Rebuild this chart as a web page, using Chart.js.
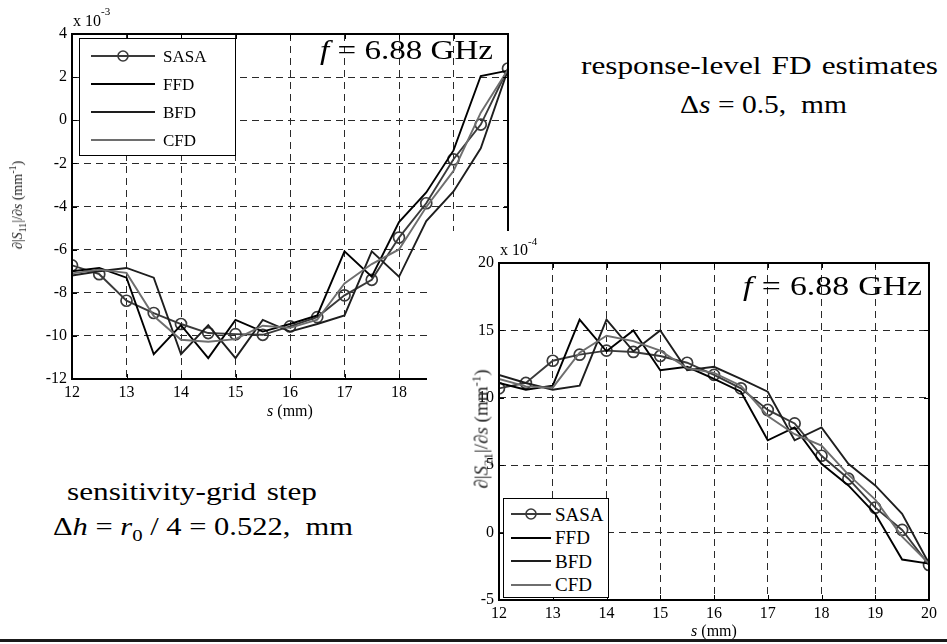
<!DOCTYPE html>
<html>
<head>
<meta charset="utf-8">
<script src="https://cdn.jsdelivr.net/npm/chart.js@4.4.0/dist/chart.umd.min.js"></script>
<style>
  body { margin: 0; width: 947px; height: 644px; position: relative; overflow: hidden; background: #fff;
         font-family: "Liberation Serif", serif; color: #000; }
  body * { font-family: "Liberation Serif", serif; }
  .abs { position: absolute; white-space: nowrap; line-height: 1; }
  .fit { transform-origin: left top; }
  #s11-canvas { position: absolute; left: 0; top: 0; z-index: 1; }
  #s21-fig { position: absolute; left: 427px; top: 231px; width: 520px; height: 407px; background: #fff; z-index: 5; }
  #s21-canvas { position: absolute; left: 0; top: 0; }
  .legend { position: absolute; background: #fff; border: 1.5px solid #000; box-sizing: border-box; z-index: 10; }
  .legend .row { position: absolute; left: 0; white-space: nowrap; line-height: 1; }
  .legend svg { position: absolute; left: 0; top: 0; }
  .ytitle { position: absolute; white-space: nowrap; line-height: 1; transform: translate(-50%, -50%) rotate(-90deg); color: #222; }
  sub, sup { line-height: 0; }
  .bottom-rule { position: absolute; left: 0; top: 639px; width: 947px; height: 3px; background: #1a1a1a; z-index: 20; }
</style>
</head>
<body>
<canvas id="s11-canvas" width="530" height="430"></canvas>

<!-- left plot annotations -->
<div class="abs" style="left:73px;top:13px;font-size:16px;z-index:2">x 10</div>
<div class="abs" style="left:101px;top:6px;font-size:11px;z-index:2">-3</div>
<div class="abs fit" data-w="173" style="left:320px;top:37px;font-size:27px;z-index:2"><i>f</i> = 6.88 GHz</div>
<div class="abs" style="left:290px;top:403px;font-size:16px;transform:translateX(-50%);z-index:2"><i>s</i> (mm)</div>
<div class="ytitle" style="left:18px;top:205px;font-size:14px;z-index:2">∂|<i>S</i><sub style="font-size:10px">11</sub>|/∂<i>s</i> (mm<sup style="font-size:10px">-1</sup>)</div>
<div class="legend" id="s11-legend" style="left:79px;top:38px;width:157px;height:118px"></div>

<div id="s21-fig">
  <canvas id="s21-canvas" width="520" height="407"></canvas>
</div>

<!-- right plot annotations -->
<div class="abs" style="left:500px;top:242px;font-size:16px;z-index:6">x 10</div>
<div class="abs" style="left:528px;top:236px;font-size:11px;z-index:6">-4</div>
<div class="abs fit" data-w="179" style="left:743px;top:273px;font-size:27px;z-index:6"><i>f</i> = 6.88 GHz</div>
<div class="abs" style="left:714px;top:623px;font-size:16px;transform:translateX(-50%);z-index:6"><i>s</i> (mm)</div>
<div class="ytitle" style="left:481px;top:429px;font-size:19px;z-index:6">∂|<i>S</i><sub style="font-size:13px">21</sub>|/∂<i>s</i> (mm<sup style="font-size:13px">-1</sup>)</div>
<div class="legend" id="s21-legend" style="left:503px;top:498px;width:106px;height:100px"></div>

<!-- free text -->
<div class="abs fit" data-w="357" style="left:581px;top:53px;font-size:25px">response-level FD estimates</div>
<div class="abs fit" data-w="167" style="left:680px;top:92px;font-size:25px">Δ<i>s</i> = 0.5,&nbsp; mm</div>
<div class="abs fit" data-w="250" style="left:67px;top:479px;font-size:25px">sensitivity-grid step</div>
<div class="abs fit" data-w="300" style="left:53px;top:514px;font-size:25px">Δ<i>h</i> = <i>r</i><sub style="font-size:17px">0</sub> / 4 = 0.522,&nbsp; mm</div>

<div class="bottom-rule"></div>

<script>
// sample positions s (mm)
const sPos = [12, 12.5, 13, 13.5, 14, 14.5, 15, 15.5, 16, 16.5, 17, 17.5, 18, 18.5, 19, 19.5, 20];
const sTicks = [12, 13, 14, 15, 16, 17, 18, 19, 20];

// d|S11|/ds, units of 1e-3 mm^-1
const s11Sasa = [-6.73, -7.14, -8.37, -8.94, -9.45, -9.87, -9.92, -9.95, -9.56, -9.13, -8.12, -7.40, -5.44, -3.85, -1.81, -0.20, 2.40];
const s11Ffd  = [-7.00, -6.85, -7.30, -10.85, -9.50, -11.03, -9.26, -9.80, -9.45, -9.05, -6.08, -7.26, -4.72, -3.35, -1.40, 2.05, 2.30];
const s11Bfd  = [-7.20, -7.00, -6.85, -7.30, -10.85, -9.50, -11.03, -9.26, -9.80, -9.45, -9.05, -6.08, -7.26, -4.68, -3.30, -1.30, 2.35];
const s11Cfd  = [-7.10, -6.93, -7.08, -9.08, -10.18, -10.27, -10.15, -9.53, -9.63, -9.25, -7.57, -6.67, -5.99, -4.02, -2.35, 0.35, 2.35];
const s11Ticks = [-12, -10, -8, -6, -4, -2, 0, 2, 4];

// d|S21|/ds, units of 1e-4 mm^-1
const s21Sasa = [10.7, 11.1, 12.75, 13.2, 13.5, 13.4, 13.1, 12.6, 11.7, 10.7, 9.1, 8.1, 5.7, 4.0, 1.85, 0.2, -2.4];
const s21Ffd  = [11.1, 10.6, 10.9, 15.8, 13.45, 15.0, 12.05, 12.3, 11.4, 10.45, 6.85, 7.8, 5.1, 3.5, 1.4, -2.0, -2.3];
const s21Bfd  = [11.7, 11.1, 10.6, 10.9, 15.8, 13.45, 15.0, 12.05, 12.3, 11.4, 10.45, 6.85, 7.8, 5.1, 3.5, 1.4, -2.3];
const s21Cfd  = [11.4, 10.85, 10.75, 13.35, 14.6, 14.2, 13.5, 12.2, 11.85, 10.9, 8.65, 7.3, 6.45, 4.3, 2.45, -0.3, -2.3];
const s21Ticks = [-5, 0, 5, 10, 15, 20];

const seriesNames = ['SASA', 'FFD', 'BFD', 'CFD'];
const seriesColors = { SASA: '#3a3a3a', FFD: '#000000', BFD: '#1e1e1e', CFD: '#6e6e6e' };
const serif = '"Liberation Serif", serif';

// plot box with inward ticks, like a MATLAB axes
const axesBox = {
  id: 'axesBox',
  afterDatasetsDraw(chart) {
    const { ctx, chartArea: a, scales } = chart;
    ctx.save();
    ctx.strokeStyle = '#000';
    ctx.lineWidth = 1;
    ctx.beginPath();
    scales.x.ticks.forEach(t => {
      const x = Math.round(scales.x.getPixelForValue(t.value)) + 0.5;
      ctx.moveTo(x, a.bottom); ctx.lineTo(x, a.bottom - 5);
      ctx.moveTo(x, a.top); ctx.lineTo(x, a.top + 5);
    });
    scales.y.ticks.forEach(t => {
      const y = Math.round(scales.y.getPixelForValue(t.value)) + 0.5;
      ctx.moveTo(a.left, y); ctx.lineTo(a.left + 5, y);
      ctx.moveTo(a.right, y); ctx.lineTo(a.right - 5, y);
    });
    ctx.stroke();
    ctx.lineWidth = 2;
    ctx.strokeRect(a.left, a.top, a.right - a.left, a.bottom - a.top);
    ctx.restore();
  }
};

function makeDatasets(values) {
  return seriesNames.map((name, i) => ({
    label: name,
    data: sPos.map((s, k) => ({ x: s, y: values[i][k] })),
    borderColor: seriesColors[name],
    borderWidth: 1.9,
    tension: 0,
    order: seriesNames.length - i,
    pointRadius: name === 'SASA' ? 5.5 : 0,
    pointStyle: 'circle',
    pointBorderWidth: 1.7,
    pointBorderColor: seriesColors[name],
    pointBackgroundColor: 'rgba(255,255,255,0)'
  }));
}

function buildChart(canvasId, values, yTicks, geom) {
  const tickFont = { family: serif, size: 16 };
  return new Chart(document.getElementById(canvasId), {
    type: 'line',
    data: { datasets: makeDatasets(values) },
    options: {
      responsive: false,
      animation: false,
      devicePixelRatio: 1,
      layout: { padding: { left: 0, top: geom.top, right: geom.right, bottom: 0 } },
      plugins: { legend: { display: false }, tooltip: { enabled: false } },
      scales: {
        x: {
          type: 'linear',
          min: sTicks[0],
          max: sTicks[sTicks.length - 1],
          afterBuildTicks: s => { s.ticks = sTicks.map(v => ({ value: v })); },
          afterFit: s => { s.height = geom.xAxisH; },
          grid: { color: '#2a2a2a', lineWidth: 1, drawTicks: false },
          border: { display: false, dash: [7, 5] },
          ticks: { color: '#000', font: tickFont, padding: 4, maxRotation: 0, autoSkip: false }
        },
        y: {
          type: 'linear',
          min: yTicks[0],
          max: yTicks[yTicks.length - 1],
          afterBuildTicks: s => { s.ticks = yTicks.map(v => ({ value: v })); },
          afterFit: s => { s.width = 72; },
          grid: { color: '#2a2a2a', lineWidth: 1, drawTicks: false },
          border: { display: false, dash: [7, 5] },
          ticks: { color: '#000', font: tickFont, padding: 5, autoSkip: false }
        }
      }
    },
    plugins: [axesBox]
  });
}

function buildLegend(elId, chart, geom) {
  const box = document.getElementById(elId);
  chart.data.datasets.forEach((ds, i) => {
    const cy = geom.firstY + i * geom.stepY;
    const row = document.createElement('div');
    row.className = 'row';
    const marker = ds.pointRadius > 0
      ? `<circle cx="${(geom.lineX0 + geom.lineX1) / 2}" cy="${geom.rowH / 2}" r="5" fill="none" stroke="${ds.borderColor}" stroke-width="1.6"/>`
      : '';
    row.innerHTML =
      `<svg width="${geom.lineX1 + 2}" height="${geom.rowH}">
         <line x1="${geom.lineX0}" y1="${geom.rowH / 2}" x2="${geom.lineX1}" y2="${geom.rowH / 2}" stroke="${ds.borderColor}" stroke-width="1.8"/>
         ${marker}
       </svg>
       <span style="position:absolute;left:${geom.textX}px;top:${geom.rowH / 2 - geom.fontSize * 0.5}px;font-size:${geom.fontSize}px">${ds.label}</span>`;
    row.style.top = (cy - geom.rowH / 2) + 'px';
    row.style.height = geom.rowH + 'px';
    box.appendChild(row);
  });
}

const s11Chart = buildChart('s11-canvas', [s11Sasa, s11Ffd, s11Bfd, s11Cfd], s11Ticks, { top: 34, right: 22, xAxisH: 51 });
const s21Chart = buildChart('s21-canvas', [s21Sasa, s21Ffd, s21Bfd, s21Cfd], s21Ticks, { top: 32, right: 18, xAxisH: 38 });

buildLegend('s11-legend', s11Chart, { firstY: 17, stepY: 28, rowH: 24, lineX0: 11, lineX1: 75, textX: 83, fontSize: 17 });
buildLegend('s21-legend', s21Chart, { firstY: 15, stepY: 23.5, rowH: 22, lineX0: 7, lineX1: 47, textX: 51, fontSize: 19 });

// free text in the figure is drawn about 1.25x wider than tall; any width left over goes to the word gaps
const textStretch = 1.25;
document.querySelectorAll('.fit').forEach(el => {
  const target = Number(el.dataset.w);
  const gaps = (el.textContent.match(/ /g) || []).length;
  const w = el.getBoundingClientRect().width;
  const extra = Math.max(0, (target / textStretch - w) / Math.max(gaps, 1));
  if (gaps) el.style.wordSpacing = extra + 'px';
  const w2 = el.getBoundingClientRect().width;
  el.style.transform = `scaleX(${target / w2})`;
});
</script>
</body>
</html>
